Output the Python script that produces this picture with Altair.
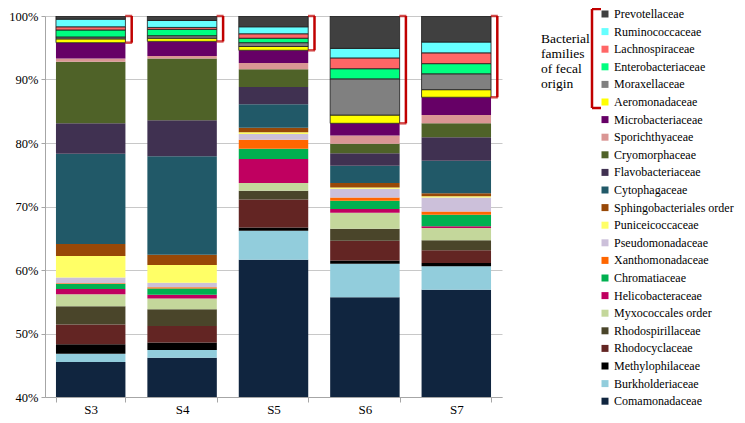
import altair as alt
import pandas as pd

samples = ["S3", "S4", "S5", "S6", "S7"]

# families from bottom of the stack to top
families = [
    "Comamonadaceae", "Burkholderiaceae", "Methylophilaceae", "Rhodocyclaceae",
    "Rhodospirillaceae", "Myxococcales order", "Helicobacteraceae", "Chromatiaceae",
    "Xanthomonadaceae", "Pseudomonadaceae", "Puniceicoccaceae", "Sphingobacteriales order",
    "Cytophagaceae", "Flavobacteriaceae", "Cryomorphaceae", "Sporichthyaceae",
    "Microbacteriaceae", "Aeromonadaceae", "Moraxellaceae", "Enterobacteriaceae",
    "Lachnospiraceae", "Ruminococcaceae", "Prevotellaceae",
]

colors = [
    "#10253F", "#92CDDC", "#000000", "#632523",
    "#4A452A", "#C4D79B", "#C00060", "#00B050",
    "#FF6600", "#CCC0DA", "#FFFF66", "#984807",
    "#215968", "#403151", "#4F6228", "#DA9694",
    "#660066", "#FFFF00", "#808080", "#00FF80",
    "#FF6666", "#66FFFF", "#404040",
]

fecal = ["Aeromonadaceae", "Moraxellaceae", "Enterobacteriaceae",
         "Lachnospiraceae", "Ruminococcaceae", "Prevotellaceae"]

# percent values per sample (S3, S4, S5, S6, S7)
comamonadaceae = [45.5, 46.2, 61.6, 55.7, 56.9]
burkholderiaceae = [1.3, 1.2, 4.6, 5.3, 3.7]
methylophilaceae = [1.5, 1.2, 0.5, 0.5, 0.5]
rhodocyclaceae = [3.1, 2.6, 4.4, 3.1, 2.0]
rhodospirillaceae = [2.9, 2.6, 1.4, 1.9, 1.6]
myxococcales = [1.9, 1.7, 1.2, 2.5, 1.9]
helicobacteraceae = [0.8, 0.6, 3.8, 0.6, 0.3]
chromatiaceae = [0.8, 1.0, 1.6, 1.3, 1.8]
xanthomonadaceae = [0.1, 0.2, 1.4, 0.5, 0.5]
pseudomonadaceae = [0.9, 0.7, 0.9, 1.4, 2.2]
puniceicoccaceae = [3.4, 2.8, 0.3, 0.2, 0.2]
sphingobacteriales = [1.9, 1.6, 0.7, 0.7, 0.5]
cytophagaceae = [14.2, 15.5, 3.7, 2.7, 5.1]
flavobacteriaceae = [4.8, 5.7, 2.7, 2.0, 3.7]
cryomorphaceae = [9.7, 9.7, 2.8, 1.5, 2.2]
sporichthyaceae = [0.5, 0.4, 1.0, 1.3, 1.3]
microbacteriaceae = [2.5, 2.3, 2.0, 1.9, 2.8]
aeromonadaceae = [0.6, 0.5, 0.6, 1.3, 1.2]
moraxellaceae = [0.3, 0.4, 0.6, 5.7, 2.5]
enterobacteriaceae = [1.1, 1.0, 0.7, 1.6, 1.6]
lachnospiraceae = [0.5, 0.3, 0.7, 1.7, 1.7]
ruminococcaceae = [1.2, 1.1, 1.1, 1.5, 1.7]
prevotellaceae = [0.5, 0.7, 1.7, 5.1, 4.1]

series = [
    comamonadaceae, burkholderiaceae, methylophilaceae, rhodocyclaceae,
    rhodospirillaceae, myxococcales, helicobacteraceae, chromatiaceae,
    xanthomonadaceae, pseudomonadaceae, puniceicoccaceae, sphingobacteriales,
    cytophagaceae, flavobacteriaceae, cryomorphaceae, sporichthyaceae,
    microbacteriaceae, aeromonadaceae, moraxellaceae, enterobacteriaceae,
    lachnospiraceae, ruminococcaceae, prevotellaceae,
]

rows = []
for i, (fam, vals) in enumerate(zip(families, series)):
    for s, v in zip(samples, vals):
        rows.append({"sample": s, "family": fam, "value": v, "idx": i,
                     "fecal": fam in fecal})
df = pd.DataFrame(rows)

# bracket extents: from top of non-fecal stack up to 100%
brows = []
for j, s in enumerate(samples):
    lo = sum(vals[j] for fam, vals in zip(families, series) if fam not in fecal)
    brows.append({"sample": s, "lo": lo, "hi": 100.0})
bdf = pd.DataFrame(brows)
tdf = pd.concat([bdf[["sample"]].assign(y=bdf["lo"]), bdf[["sample"]].assign(y=bdf["hi"])])

legend_domain = families[::-1]
legend_range = colors[::-1]

FONT = "Liberation Serif, Times New Roman, serif"
RED = "#C00000"

xenc = alt.X("sample:N", title=None,
             scale=alt.Scale(paddingInner=0.24, paddingOuter=0.12),
             axis=alt.Axis(labelAngle=0, tickBand="extent", domainColor="#a6a6a6",
                           tickColor="#a6a6a6", tickSize=5, labelFont=FONT,
                           labelFontSize=13, labelColor="black", labelPadding=1,
                           grid=False))

bars = alt.Chart(df).mark_bar(clip=True, strokeWidth=0.8).encode(
    x=xenc,
    y=alt.Y("value:Q", stack="zero", title=None,
            scale=alt.Scale(domain=[40, 100], nice=False),
            axis=alt.Axis(values=[40, 50, 60, 70, 80, 90, 100],
                          labelExpr="datum.value + '%'", grid=True,
                          gridColor="#c8c8c8", domainColor="#a6a6a6",
                          tickColor="#a6a6a6", tickSize=4, labelFont=FONT,
                          labelFontSize=12.5, labelColor="black", labelPadding=3)),
    color=alt.Color("family:N",
                    scale=alt.Scale(domain=legend_domain, range=legend_range),
                    legend=alt.Legend(title=None, orient="none", legendX=554, legendY=-8,
                                      symbolType="square", symbolSize=49,
                                      labelFont=FONT, labelFontSize=12,
                                      labelColor="black", rowPadding=5.6, padding=0,
                                      labelOffset=3, symbolStrokeWidth=0,
                                      labelLimit=200)),
    order=alt.Order("idx:Q", sort="ascending"),
    stroke=alt.condition("datum.fecal", alt.value("#1a1a1a"), alt.value("transparent")),
)

vrule = alt.Chart(bdf).mark_rule(color=RED, strokeWidth=2.5, xOffset=41).encode(
    x="sample:N", y="lo:Q", y2="hi:Q")

ticks = alt.Chart(tdf).mark_tick(orient="horizontal", color=RED, thickness=2.5,
                                 size=7, xOffset=38).encode(x="sample:N", y="y:Q")

one = pd.DataFrame({"a": [0]})
leg_v = alt.Chart(one).mark_rule(color=RED, strokeWidth=2.5).encode(
    x=alt.value(547), y=alt.value(-7), y2=alt.value(92))
leg_t1 = alt.Chart(one).mark_rule(color=RED, strokeWidth=2.5).encode(
    x=alt.value(547), x2=alt.value(556), y=alt.value(-7))
leg_t2 = alt.Chart(one).mark_rule(color=RED, strokeWidth=2.5).encode(
    x=alt.value(547), x2=alt.value(556), y=alt.value(92))

label = alt.Chart(one).mark_text(align="left", baseline="top", font=FONT,
                                 fontSize=13.5, lineHeight=15, color="black").encode(
    x=alt.value(496), y=alt.value(16),
    text=alt.value(["Bacterial", "families", "of fecal", "origin"]))

chart = alt.layer(bars, vrule, ticks, leg_v, leg_t1, leg_t2, label).properties(
    width=457, height=381,
    autosize=alt.AutoSizeParams(type="none"),
    padding={"left": 37, "top": 8, "right": 235, "bottom": 18},
).configure_view(stroke=None)

chart.save("out.html", embed_options={"renderer": "svg", "actions": False})
